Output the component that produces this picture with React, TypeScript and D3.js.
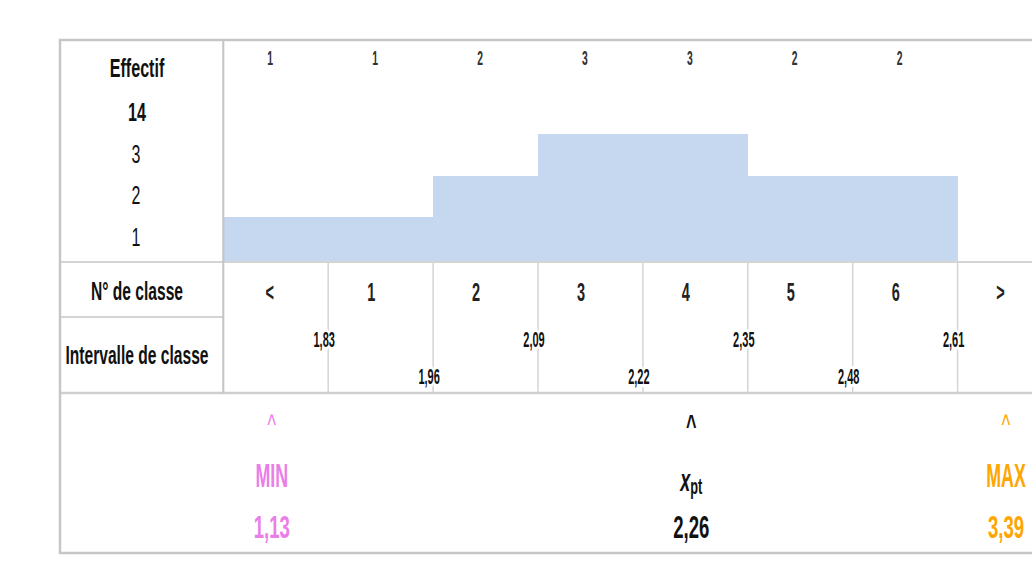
import React from "react";
import * as d3 from "d3";

const classLabels = ["<", "1", "2", "3", "4", "5", "6", ">"];
const counts = [1, 1, 2, 3, 3, 2, 2, 0];
const yTicks = [1, 2, 3];
const total = 14;
const boundaries = [1.83, 1.96, 2.09, 2.22, 2.35, 2.48, 2.61];
const minValue = 1.13;
const maxValue = 3.39;
const xptValue = 2.26;

const W = 1032;
const H = 563;
const FONT = "'Liberation Sans', Arial, sans-serif";
const fmt = (v: number) => d3.format(".2f")(v).replace(".", ",");

function T(props: {
  x: number; y: number; size: number; weight?: string | number; fill?: string;
  sx?: number; halo?: boolean; children: React.ReactNode;
}) {
  const { x, y, size, weight = "normal", fill = "#111", sx = 0.7, halo = false, children } = props;
  return (
    <text
      transform={`translate(${x},${y}) scale(${sx},1)`}
      textAnchor="middle"
      dominantBaseline="central"
      fontFamily={FONT}
      fontSize={size}
      fontWeight={weight}
      fill={fill}
      stroke={halo ? "#fff" : "none"}
      strokeWidth={halo ? 6 : 0}
      paintOrder="stroke"
    >
      {children}
    </text>
  );
}

export default function App() {
  const left = 60, top = 40, bottom = 553;
  const labelRight = 223.3;
  const colW = 104.9;
  const rowHist = 262, rowClass = 317, rowInt = 393;

  const x = d3.scaleBand<string>()
    .domain(classLabels)
    .range([labelRight, labelRight + colW * classLabels.length])
    .padding(0);
  const y = d3.scaleLinear().domain([0, 3]).range([258.5, 134.3]);
  const mid = (c: string) => (x(c) as number) + x.bandwidth() / 2;
  const cx = (c: string) => mid(c) - 4;

  const xptIdx = boundaries.findIndex((b, i) => i < boundaries.length - 1 && xptValue >= b && xptValue < boundaries[i + 1]) + 1;
  const xptX = cx(classLabels[xptIdx]);
  const minX = cx(classLabels[0]);
  const maxX = cx(classLabels[classLabels.length - 1]);

  const lineCol = "#d4d4d4";

  return (
    <svg width={W} height={H} style={{ position: "absolute", left: 0, top: 0, background: "#fff" }}>
      <rect x={0} y={0} width={W} height={H} fill="#fff" />
      {/* histogram bars */}
      {classLabels.map((c, i) => {
        if (counts[i] <= 0) return null;
        const x0 = Math.round(x(c) as number);
        const x1 = Math.round((x(c) as number) + x.bandwidth());
        const yt = Math.round(y(counts[i]));
        return <rect key={"b" + c} x={x0} y={yt} width={x1 - x0} height={rowHist - yt} fill="#c6d8ef" shapeRendering="crispEdges" />;
      })}
      {/* grid lines */}
      <line x1={left} x2={W} y1={rowHist} y2={rowHist} stroke={lineCol} strokeWidth={2} />
      <line x1={left} x2={labelRight} y1={rowClass} y2={rowClass} stroke={lineCol} strokeWidth={2} />
      <line x1={left} x2={W} y1={rowInt} y2={rowInt} stroke="#cfcfcf" strokeWidth={2.5} />
      <line x1={labelRight} x2={labelRight} y1={top} y2={rowInt} stroke="#c4c4c4" strokeWidth={2} />
      {classLabels.slice(1).map((c) => (
        <line key={"v" + c} x1={x(c)} x2={x(c)} y1={rowHist} y2={rowInt} stroke={lineCol} strokeWidth={1.5} />
      ))}
      {/* outer frame */}
      <rect x={left} y={top} width={W + 40 - left} height={bottom - top} fill="none" stroke="#c6c6c6" strokeWidth={2.5} />

      {/* left labels */}
      <T x={137} y={68} size={26} weight="bold" sx={0.62}>Effectif</T>
      <T x={137} y={112} size={26} weight="bold" sx={0.62}>{total}</T>
      {yTicks.map((t) => (
        <T key={"yt" + t} x={136} y={(y(t) + y(t - 1)) / 2 - 1} size={25} sx={0.64}>{t}</T>
      ))}
      <T x={137} y={292} size={26} weight="bold" sx={0.6}>N° de classe</T>
      <T x={137} y={356} size={26} weight="bold" sx={0.6}>Intervalle de classe</T>

      {/* counts on top */}
      {classLabels.map((c, i) =>
        counts[i] > 0 ? (
          <T key={"c" + c} x={mid(c) - 5.5} y={58} size={20} weight="bold" sx={0.52} fill="#333">{counts[i]}</T>
        ) : null
      )}
      {/* class numbers */}
      {classLabels.map((c, i) => (
        <T key={"n" + c} x={mid(c) - (i === 0 ? 6 : 9.5)} y={292} size={25} weight="bold" sx={0.58} fill="#222">{c}</T>
      ))}
      {/* boundaries */}
      {boundaries.map((b, i) => (
        <T key={"bd" + i} x={(x(classLabels[i + 1]) as number) - 4} y={i % 2 === 0 ? 339 : 376} size={22} weight="bold" sx={0.5} halo>
          {fmt(b)}
        </T>
      ))}

      {/* bottom markers */}
      <T x={minX} y={425} size={30} fill="#ea7ee8" sx={0.6}>^</T>
      <T x={minX} y={476} size={33} weight="bold" fill="#ea7ee8" sx={0.54}>MIN</T>
      <T x={minX} y={527} size={32} weight="bold" fill="#ea7ee8" sx={0.58}>{fmt(minValue)}</T>

      <T x={xptX} y={425} size={30} weight="bold" sx={0.6}>^</T>
      <text
        transform={`translate(${xptX},${480}) scale(0.58,1)`}
        textAnchor="middle"
        dominantBaseline="central"
        fontFamily={FONT}
        fontSize={31}
        fontWeight="bold"
        fill="#111"
      >
        <tspan fontStyle="italic">x</tspan>
        <tspan fontSize={22} dy={7}>pt</tspan>
      </text>
      <T x={xptX} y={527} size={32} weight="bold" sx={0.58}>{fmt(xptValue)}</T>

      <T x={maxX} y={425} size={30} fill="#ffa500" sx={0.6}>^</T>
      <T x={maxX} y={476} size={33} weight="bold" fill="#ffa500" sx={0.54}>MAX</T>
      <T x={maxX} y={527} size={32} weight="bold" fill="#ffa500" sx={0.58}>{fmt(maxValue)}</T>
    </svg>
  );
}
